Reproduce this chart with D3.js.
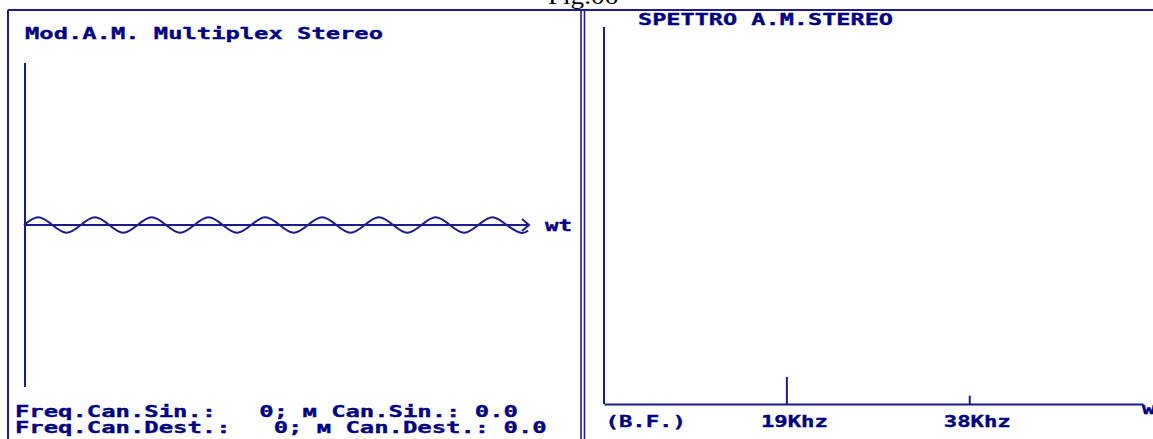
<!DOCTYPE html>
<html>
<head>
<meta charset="utf-8">
<script src="https://cdn.jsdelivr.net/npm/d3@7"></script>
<style>
  body { margin: 0; background: #fff; }
  svg { display: block; }
  .mono { font-family: 'DejaVu Sans Mono', monospace; font-weight: bold; fill: #000080;
          stroke: #000080; stroke-width: 0.35px; white-space: pre; }
</style>
</head>
<body>
<div id="chart"></div>
<script>
// titles and texts
const figLabel = 'Fig.06';
const leftTitle = 'Mod.A.M. Multiplex Stereo';
const rightTitle = 'SPETTRO A.M.STEREO';
const readoutLines = [
  'Freq.Can.Sin.:   0; м Can.Sin.: 0.0',
  'Freq.Can.Dest.:   0; м Can.Dest.: 0.0'
];

// carrier wave, sampled every quarter period (phase in quarter periods)
const carrierPhase = [
  0, 1, 2, 3, 4, 5, 6, 7, 8, 9, 10, 11, 12, 13, 14, 15, 16, 17,
  18, 19, 20, 21, 22, 23, 24, 25, 26, 27, 28, 29, 30, 31, 32, 33, 34, 35, 35.5
];
const carrierLevel = [
  0, 1, 0, -1, 0, 1, 0, -1, 0, 1, 0, -1, 0, 1, 0, -1, 0, 1,
  0, -1, 0, 1, 0, -1, 0, 1, 0, -1, 0, 1, 0, -1, 0, 1, 0, -1, -0.7
];

// spectrum
const spectrumFreq = [19, 38];
const spectrumLevel = [7.2, 2.2];
const freqTicks = [0, 19, 38];
const freqTickLabels = ['(B.F.)', '19Khz', '38Khz'];

const W = 1153, H = 439;
const ink = '#1c1c8c';

const svg = d3.select('#chart').append('svg')
  .attr('width', W)
  .attr('height', H);

svg.append('rect').attr('width', W).attr('height', H).attr('fill', '#fff');

// frame
svg.append('line').attr('x1', 8).attr('x2', W).attr('y1', 10).attr('y2', 10)
  .attr('stroke', ink).attr('stroke-width', 2);
svg.append('line').attr('x1', 8).attr('x2', 8).attr('y1', 10).attr('y2', H)
  .attr('stroke', ink).attr('stroke-width', 2);
[581, 584.5].forEach(x => {
  svg.append('line').attr('x1', x).attr('x2', x).attr('y1', 10).attr('y2', H)
    .attr('stroke', ink).attr('stroke-width', 1.6);
});

// figure caption, clipped at the top as in the source
svg.append('text')
  .attr('x', 548).attr('y', 4)
  .attr('textLength', 70).attr('lengthAdjust', 'spacingAndGlyphs')
  .style('font-family', "'Liberation Serif', serif")
  .style('font-size', '24px')
  .attr('fill', '#000')
  .text(figLabel);

// ---------- left panel: modulated waveform ----------
const xL = d3.scaleLinear().domain([0, 35.5]).range([24, 528]);
const yL = d3.scaleLinear().domain([-21, 21]).range([387, 63]);

svg.append('text').attr('class', 'mono')
  .attr('x', 25).attr('y', 39)
  .attr('textLength', 358).attr('lengthAdjust', 'spacingAndGlyphs')
  .style('font-size', '16.5px')
  .text(leftTitle);

// vertical axis
svg.append('line')
  .attr('x1', xL(0) + 1).attr('x2', xL(0) + 1)
  .attr('y1', yL.range()[1]).attr('y2', yL.range()[0])
  .attr('stroke', ink).attr('stroke-width', 2);

// time axis with arrow
const axisEnd = xL(35.5) + 1;
svg.append('line')
  .attr('x1', xL(0) + 1).attr('x2', axisEnd)
  .attr('y1', yL(0)).attr('y2', yL(0))
  .attr('stroke', ink).attr('stroke-width', 2);
svg.append('path')
  .attr('d', `M${axisEnd - 7},${yL(0) - 6}L${axisEnd},${yL(0)}L${axisEnd - 7},${yL(0) + 6}`)
  .attr('fill', 'none').attr('stroke', ink).attr('stroke-width', 2);

svg.append('text').attr('class', 'mono')
  .attr('x', 545).attr('y', 231)
  .attr('textLength', 27).attr('lengthAdjust', 'spacingAndGlyphs')
  .style('font-size', '16px')
  .text('wt');

const wave = d3.line()
  .x((d, i) => xL(carrierPhase[i]))
  .y(d => yL(d))
  .curve(d3.curveNatural);

svg.append('path')
  .datum(carrierLevel)
  .attr('d', wave)
  .attr('fill', 'none')
  .attr('stroke', ink)
  .attr('stroke-width', 2);

readoutLines.forEach((t, i) => {
  svg.append('text').attr('class', 'mono')
    .attr('x', 15).attr('y', 417 + i * 16)
    .attr('textLength', t.length * 14.37).attr('lengthAdjust', 'spacingAndGlyphs')
    .style('font-size', '16px')
    .text(t);
});

// ---------- right panel: spectrum ----------
const xR = d3.scaleLinear().domain([0, 56]).range([604, 1143]);
const yR = d3.scaleLinear().domain([0, 100]).range([404, 27]);

svg.append('text').attr('class', 'mono')
  .attr('x', 638).attr('y', 25)
  .attr('textLength', 255).attr('lengthAdjust', 'spacingAndGlyphs')
  .style('font-size', '16px')
  .text(rightTitle);

svg.append('line')
  .attr('x1', xR(0)).attr('x2', xR(0))
  .attr('y1', yR(100)).attr('y2', yR(0))
  .attr('stroke', ink).attr('stroke-width', 2);

const axis = svg.append('g')
  .attr('transform', `translate(0,${yR(0)})`)
  .call(d3.axisBottom(xR)
    .tickValues(freqTicks)
    .tickSize(0)
    .tickSizeOuter(0)
    .tickPadding(0)
    .tickFormat((d, i) => freqTickLabels[i]));

axis.select('.domain').attr('stroke', ink).attr('stroke-width', 2);
axis.selectAll('.tick text')
  .attr('class', 'mono')
  .attr('text-anchor', 'start')
  .attr('dy', null)
  .attr('y', 23)
  .attr('dx', (d, i) => i === 0 ? 1 : -26.5)
  .attr('textLength', (d, i) => freqTickLabels[i].length * 13.4)
  .attr('lengthAdjust', 'spacingAndGlyphs')
  .style('font-size', '16px')
  .style('fill', '#000080');

svg.selectAll('.spec')
  .data(spectrumFreq)
  .enter()
  .append('line')
  .attr('class', 'spec')
  .attr('x1', d => xR(d)).attr('x2', d => xR(d))
  .attr('y1', yR(0)).attr('y2', (d, i) => yR(spectrumLevel[i]))
  .attr('stroke', ink).attr('stroke-width', 2);

// axis name at the right edge, cut by the border as in the source
svg.append('text').attr('class', 'mono')
  .attr('x', 1142).attr('y', 414)
  .attr('textLength', 27).attr('lengthAdjust', 'spacingAndGlyphs')
  .style('font-size', '16px')
  .text('wt');
</script>
</body>
</html>
